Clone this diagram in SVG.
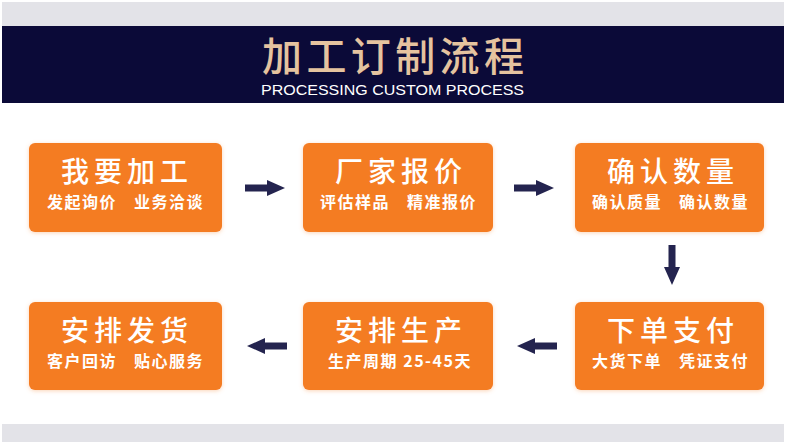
<svg xmlns="http://www.w3.org/2000/svg" width="792" height="446" viewBox="0 0 792 446">
<style>
.box{fill:#f47b20;filter:url(#glow)}
.t{font-family:"Noto Sans CJK SC","Noto Sans",sans-serif;fill:#fff;font-size:28px;font-weight:500;letter-spacing:5px;text-anchor:middle}
.s{font-family:"Noto Sans CJK SC","Noto Sans",sans-serif;fill:#fff;font-size:16px;font-weight:bold;letter-spacing:1.5px;text-anchor:middle}
.arr{fill:#24244f}
</style>
<defs>
<filter id="glow" x="-10%" y="-10%" width="120%" height="120%">
<feDropShadow dx="0" dy="1" stdDeviation="2" flood-color="#f6a060" flood-opacity="0.45"/>
</filter>
<path id="ah" d="M0,-3.5 H22 V-8 L40,0 L22,8 V3.5 H0 Z"/>
</defs>
<rect width="792" height="446" fill="#fff"/>
<rect x="2" y="2" width="782" height="25" fill="#e3e3e8"/>
<rect x="2" y="26" width="782" height="77" fill="#0b0a38"/>
<text x="262" y="71" textLength="262" lengthAdjust="spacing" font-family="Noto Sans CJK SC, sans-serif" font-size="40" font-weight="500" fill="#e5c39f">加工订制流程</text>
<text x="261" y="95" textLength="263" lengthAdjust="spacingAndGlyphs" font-family="Liberation Sans, Arial, sans-serif" font-size="14" fill="#fff">PROCESSING CUSTOM PROCESS</text>
<rect x="2" y="424" width="782" height="18" fill="#e3e3e8"/>

<g id="node1">
<rect class="box" x="29" y="143" width="193" height="89" rx="6"/>
<text class="t" x="127" y="182">我要加工</text>
<text class="s" y="208"><tspan x="82">发起询价</tspan><tspan x="169">业务洽谈</tspan></text>
</g>
<g id="node2">
<rect class="box" x="303" y="143" width="190" height="89" rx="6"/>
<text class="t" x="401" y="182">厂家报价</text>
<text class="s" y="208"><tspan x="355">评估样品</tspan><tspan x="442">精准报价</tspan></text>
</g>
<g id="node3">
<rect class="box" x="575" y="143" width="189" height="89" rx="6"/>
<text class="t" x="673" y="182">确认数量</text>
<text class="s" y="208"><tspan x="627">确认质量</tspan><tspan x="714">确认数量</tspan></text>
</g>
<g id="node4">
<rect class="box" x="29" y="302" width="193" height="88" rx="6"/>
<text class="t" x="127" y="341">安排发货</text>
<text class="s" y="367"><tspan x="82">客户回访</tspan><tspan x="169">贴心服务</tspan></text>
</g>
<g id="node5">
<rect class="box" x="303" y="302" width="190" height="88" rx="6"/>
<text class="t" x="401" y="341">安排生产</text>
<text class="s" x="400" y="367">生产周期 25-45天</text>
</g>
<g id="node6">
<rect class="box" x="575" y="302" width="189" height="88" rx="6"/>
<text class="t" x="673" y="341">下单支付</text>
<text class="s" y="367"><tspan x="627">大货下单</tspan><tspan x="714">凭证支付</tspan></text>
</g>

<g id="connectors" class="arr">
<use href="#ah" transform="translate(245,188)"/>
<use href="#ah" transform="translate(514,188)"/>
<use href="#ah" transform="translate(672,245) rotate(90)"/>
<use href="#ah" transform="translate(557,346) rotate(180)"/>
<use href="#ah" transform="translate(287,346) rotate(180)"/>
</g>
</svg>
